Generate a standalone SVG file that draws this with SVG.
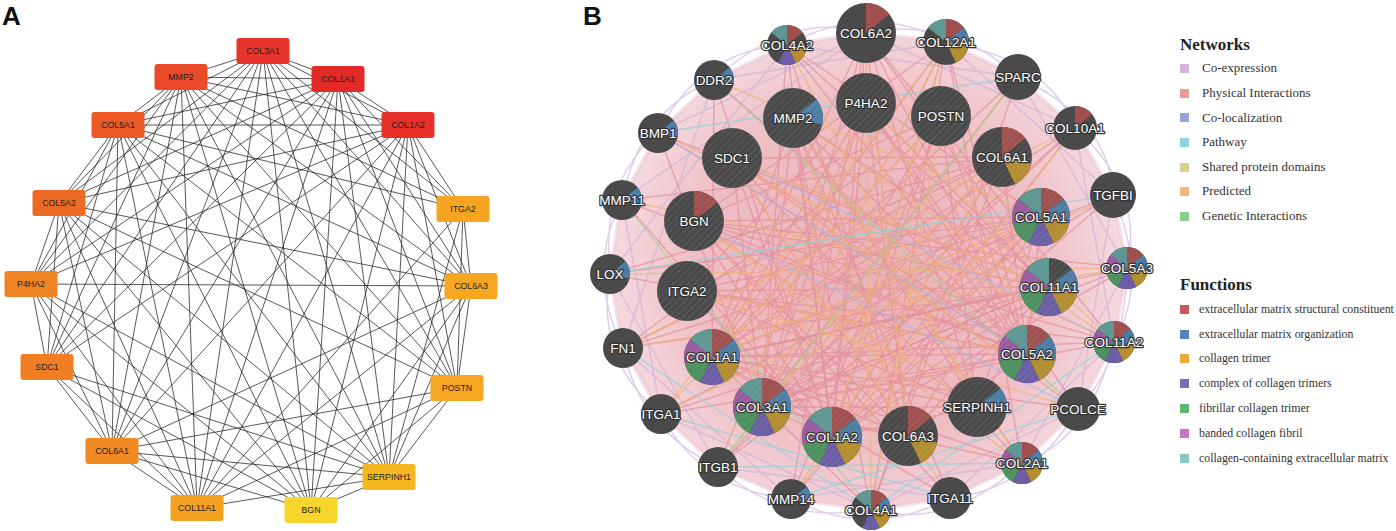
<svg xmlns="http://www.w3.org/2000/svg" xmlns:xlink="http://www.w3.org/1999/xlink" width="1396" height="531" viewBox="0 0 1396 531">
<style>
.lbl{font-family:"Liberation Sans",Arial,sans-serif;font-weight:bold;font-size:26px;fill:#111}
.an text{font-family:"Liberation Sans",Arial,sans-serif;font-size:8.8px;fill:#222;text-anchor:middle}
.ae line{stroke:#222;stroke-width:0.75}
.nd{fill:#4a4a4a}
.bn text{font-family:"Liberation Sans",Arial,sans-serif;font-size:13.5px;fill:#fff;text-anchor:middle;stroke:#333;stroke-width:2.4px;paint-order:stroke;stroke-linejoin:round}
.f0{fill:#a0514f}.f1{fill:#4c7ea6}.f2{fill:#b48e2f}.f3{fill:#6c5ea6}.f4{fill:#4e9260}.f5{fill:#9b5ba0}.f6{fill:#5f9892}
.be path{fill:none;stroke-width:1.5;stroke-linecap:round}
.phys{stroke:#e48c96;stroke-opacity:0.65}
.pred{stroke:#f0b478;stroke-opacity:0.7}
.coex{stroke:#c9aedb;stroke-opacity:0.6}
.path{stroke:#98d0d8;stroke-opacity:0.75}
.gen{stroke:#9ccf96;stroke-opacity:0.6}
.coloc{stroke:#a9b8e6;stroke-opacity:0.6}
.lg text{font-family:"Liberation Serif","Times New Roman",serif;fill:#333}
.lg .h{font-size:17px;font-weight:bold;fill:#222}
.lg .n{font-size:13px}
.lg .fn{font-size:11.8px}
</style>
<defs>
<pattern id="hatch" patternUnits="userSpaceOnUse" width="5" height="5" patternTransform="rotate(45)">
<line x1="0" y1="0" x2="0" y2="5" stroke="#9a9a9a" stroke-opacity="0.35" stroke-width="1.2"/>
</pattern>
<radialGradient id="bg" cx="868" cy="275" r="265" gradientUnits="userSpaceOnUse">
<stop offset="0" stop-color="#eab3ba"/>
<stop offset="0.65" stop-color="#eebfc5"/>
<stop offset="1" stop-color="#f5dce1"/>
</radialGradient>
<path id="s0" d="M0 0L0 -10A10 10 0 0 1 7.818 -6.235Z"/>
<path id="s1" d="M0 0L7.818 -6.235A10 10 0 0 1 9.749 2.225Z"/>
<path id="s2" d="M0 0L9.749 2.225A10 10 0 0 1 4.339 9.01Z"/>
<path id="s3" d="M0 0L4.339 9.01A10 10 0 0 1 -4.339 9.01Z"/>
<path id="s4" d="M0 0L-4.339 9.01A10 10 0 0 1 -9.749 2.225Z"/>
<path id="s5" d="M0 0L-9.749 2.225A10 10 0 0 1 -7.818 -6.235Z"/>
<path id="s6" d="M0 0L-7.818 -6.235A10 10 0 0 1 0 -10Z"/>
<g id="all7"><use href="#s0" class="f0"/><use href="#s1" class="f1"/><use href="#s2" class="f2"/><use href="#s3" class="f3"/><use href="#s4" class="f4"/><use href="#s5" class="f5"/><use href="#s6" class="f6"/></g>
</defs>
<rect width="1396" height="531" fill="#fff"/>
<text class="lbl" x="2" y="25">A</text>
<text class="lbl" x="583" y="25">B</text>

<!-- Panel A connectors -->
<g id="a-edges" class="ae">
<line x1="263" y1="51" x2="338" y2="79"/><line x1="263" y1="51" x2="408" y2="125"/><line x1="263" y1="51" x2="463" y2="209"/><line x1="263" y1="51" x2="471" y2="286"/><line x1="263" y1="51" x2="457" y2="388"/><line x1="263" y1="51" x2="389" y2="477"/><line x1="263" y1="51" x2="311" y2="510"/><line x1="263" y1="51" x2="197" y2="508"/><line x1="263" y1="51" x2="112" y2="451"/><line x1="263" y1="51" x2="47" y2="367"/><line x1="263" y1="51" x2="31" y2="284"/><line x1="263" y1="51" x2="59" y2="203"/><line x1="263" y1="51" x2="118" y2="125"/><line x1="263" y1="51" x2="181" y2="77"/>
<line x1="338" y1="79" x2="408" y2="125"/><line x1="338" y1="79" x2="463" y2="209"/><line x1="338" y1="79" x2="471" y2="286"/><line x1="338" y1="79" x2="457" y2="388"/><line x1="338" y1="79" x2="389" y2="477"/><line x1="338" y1="79" x2="311" y2="510"/><line x1="338" y1="79" x2="197" y2="508"/><line x1="338" y1="79" x2="112" y2="451"/><line x1="338" y1="79" x2="47" y2="367"/><line x1="338" y1="79" x2="31" y2="284"/><line x1="338" y1="79" x2="59" y2="203"/><line x1="338" y1="79" x2="118" y2="125"/><line x1="338" y1="79" x2="181" y2="77"/>
<line x1="408" y1="125" x2="463" y2="209"/><line x1="408" y1="125" x2="471" y2="286"/><line x1="408" y1="125" x2="457" y2="388"/><line x1="408" y1="125" x2="389" y2="477"/><line x1="408" y1="125" x2="311" y2="510"/><line x1="408" y1="125" x2="197" y2="508"/><line x1="408" y1="125" x2="112" y2="451"/><line x1="408" y1="125" x2="47" y2="367"/><line x1="408" y1="125" x2="31" y2="284"/><line x1="408" y1="125" x2="59" y2="203"/><line x1="408" y1="125" x2="118" y2="125"/><line x1="408" y1="125" x2="181" y2="77"/>
<line x1="463" y1="209" x2="471" y2="286"/><line x1="463" y1="209" x2="457" y2="388"/><line x1="463" y1="209" x2="389" y2="477"/><line x1="463" y1="209" x2="197" y2="508"/><line x1="463" y1="209" x2="118" y2="125"/><line x1="463" y1="209" x2="181" y2="77"/>
<line x1="471" y1="286" x2="457" y2="388"/><line x1="471" y1="286" x2="389" y2="477"/><line x1="471" y1="286" x2="311" y2="510"/><line x1="471" y1="286" x2="197" y2="508"/><line x1="471" y1="286" x2="112" y2="451"/><line x1="471" y1="286" x2="31" y2="284"/><line x1="471" y1="286" x2="59" y2="203"/><line x1="471" y1="286" x2="118" y2="125"/><line x1="471" y1="286" x2="181" y2="77"/>
<line x1="457" y1="388" x2="389" y2="477"/><line x1="457" y1="388" x2="311" y2="510"/><line x1="457" y1="388" x2="197" y2="508"/><line x1="457" y1="388" x2="112" y2="451"/><line x1="457" y1="388" x2="59" y2="203"/><line x1="457" y1="388" x2="118" y2="125"/><line x1="457" y1="388" x2="181" y2="77"/>
<line x1="389" y1="477" x2="311" y2="510"/><line x1="389" y1="477" x2="197" y2="508"/><line x1="389" y1="477" x2="112" y2="451"/><line x1="389" y1="477" x2="47" y2="367"/><line x1="389" y1="477" x2="31" y2="284"/><line x1="389" y1="477" x2="59" y2="203"/><line x1="389" y1="477" x2="118" y2="125"/><line x1="389" y1="477" x2="181" y2="77"/>
<line x1="311" y1="510" x2="112" y2="451"/><line x1="311" y1="510" x2="47" y2="367"/><line x1="311" y1="510" x2="31" y2="284"/><line x1="311" y1="510" x2="59" y2="203"/><line x1="311" y1="510" x2="118" y2="125"/><line x1="311" y1="510" x2="181" y2="77"/>
<line x1="197" y1="508" x2="112" y2="451"/><line x1="197" y1="508" x2="47" y2="367"/><line x1="197" y1="508" x2="31" y2="284"/><line x1="197" y1="508" x2="59" y2="203"/><line x1="197" y1="508" x2="118" y2="125"/><line x1="197" y1="508" x2="181" y2="77"/>
<line x1="112" y1="451" x2="47" y2="367"/><line x1="112" y1="451" x2="31" y2="284"/><line x1="112" y1="451" x2="59" y2="203"/><line x1="112" y1="451" x2="118" y2="125"/><line x1="112" y1="451" x2="181" y2="77"/>
<line x1="47" y1="367" x2="31" y2="284"/><line x1="47" y1="367" x2="59" y2="203"/><line x1="47" y1="367" x2="118" y2="125"/><line x1="47" y1="367" x2="181" y2="77"/>
<line x1="31" y1="284" x2="59" y2="203"/><line x1="31" y1="284" x2="118" y2="125"/><line x1="31" y1="284" x2="181" y2="77"/>
<line x1="59" y1="203" x2="118" y2="125"/><line x1="59" y1="203" x2="181" y2="77"/>
<line x1="118" y1="125" x2="181" y2="77"/>
</g>

<!-- Panel A nodes -->
<g class="an">
<g id="a-COL3A1"><rect x="236.5" y="38" width="53" height="26" rx="3" fill="#e8352b"/><text x="263" y="54">COL3A1</text></g>
<g id="a-COL1A1"><rect x="311.5" y="66" width="53" height="26" rx="3" fill="#e42a27"/><text x="338" y="82">COL1A1</text></g>
<g id="a-COL1A2"><rect x="381.5" y="112" width="53" height="26" rx="3" fill="#e63029"/><text x="408" y="128">COL1A2</text></g>
<g id="a-ITGA2"><rect x="436.5" y="196" width="53" height="26" rx="3" fill="#f6a522"/><text x="463" y="212">ITGA2</text></g>
<g id="a-COL6A3"><rect x="444.5" y="273" width="53" height="26" rx="3" fill="#f6a722"/><text x="471" y="289">COL6A3</text></g>
<g id="a-POSTN"><rect x="430.5" y="375" width="53" height="26" rx="3" fill="#f6a622"/><text x="457" y="391">POSTN</text></g>
<g id="a-SERPINH1"><rect x="362.5" y="464" width="53" height="26" rx="3" fill="#f6b622"/><text x="389" y="480">SERPINH1</text></g>
<g id="a-BGN"><rect x="284.5" y="497" width="53" height="26" rx="3" fill="#f6d62a"/><text x="311" y="513">BGN</text></g>
<g id="a-COL11A1"><rect x="170.5" y="495" width="53" height="26" rx="3" fill="#f4a021"/><text x="197" y="511">COL11A1</text></g>
<g id="a-COL6A1"><rect x="85.5" y="438" width="53" height="26" rx="3" fill="#f08a22"/><text x="112" y="454">COL6A1</text></g>
<g id="a-SDC1"><rect x="20.5" y="354" width="53" height="26" rx="3" fill="#f07f24"/><text x="47" y="370">SDC1</text></g>
<g id="a-P4HA2"><rect x="4.5" y="271" width="53" height="26" rx="3" fill="#f08323"/><text x="31" y="287">P4HA2</text></g>
<g id="a-COL5A2"><rect x="32.5" y="190" width="53" height="26" rx="3" fill="#ed6a24"/><text x="59" y="206">COL5A2</text></g>
<g id="a-COL5A1"><rect x="91.5" y="112" width="53" height="26" rx="3" fill="#ec5925"/><text x="118" y="128">COL5A1</text></g>
<g id="a-MMP2"><rect x="154.5" y="64" width="53" height="26" rx="3" fill="#ea4a28"/><text x="181" y="80">MMP2</text></g>
</g>

<!-- Panel B connectors -->
<g id="b-edges" class="be">
<polygon points="866,33 946,42 1018,77 1075,128 1113,195 1127,268 1114,342 1078,409 1022,463 950,498 871,510 791,499 718,467 661,414 623,348 610,274 622,200 658,133 714,80 787,45" fill="url(#bg)" stroke="#ecc8d6" stroke-width="4" stroke-linejoin="round" stroke-opacity="0.5"/>
<path class="coex" d="M866 33Q950 15 1018 77M946 42Q1050 60 1075 128M1018 77Q1110 120 1113 195M1075 128Q1145 190 1127 268M1113 195Q1150 280 1114 342M1127 268Q1125 360 1078 409M1114 342Q1090 440 1022 463M1078 409Q1030 490 950 498M1022 463Q950 530 871 510M950 498Q870 540 791 499M871 510Q780 525 718 467M791 499Q700 490 661 414M718 467Q640 430 623 348M661 414Q595 360 610 274M623 348Q585 270 622 200M610 274Q600 180 658 133M622 200Q640 110 714 80M658 133Q700 50 787 45M714 80Q790 10 866 33M787 45Q870 0 946 42"/>
<path class="coex" d="M622 200L866 33M610 274L787 45M623 348L714 80M661 414L622 200M718 467L610 274M791 499L623 348M871 510L661 414M950 498L718 467M1022 463L791 499M1078 409L871 510M1114 342L950 498M1127 268L1022 463M1113 195L1078 409M1075 128L1114 342M1018 77L1127 268M946 42L1113 195M866 33L1075 128M787 45L1018 77M714 80L946 42M658 133L866 33"/>
<path class="phys" d="M866 33L712 357M866 33L762 407M866 33L832 437M866 33L1027 354M866 33L1049 287M866 33L908 436M787 45L1041 217M787 45L832 437M787 45L1027 354M787 45L762 407M787 45L1049 287M946 42L712 357M946 42L762 407M946 42L832 437M946 42L1022 463M946 42L694 221M1075 128L712 357M1075 128L832 437M1075 128L762 407M1002 157L712 357M1002 157L762 407M1002 157L871 510M1002 157L622 200M1041 217L712 357M1041 217L762 407M1041 217L832 437M1041 217L694 221M1041 217L718 467M1041 217L661 414M1127 268L712 357M1127 268L762 407M1127 268L832 437M1049 287L712 357M1049 287L762 407M1049 287L687 291M1049 287L623 348M1114 342L712 357M1114 342L762 407M1114 342L694 221M1027 354L712 357M1027 354L762 407M1027 354L610 274M1027 354L658 133M1022 463L712 357M1022 463L762 407M1022 463L732 158M871 510L712 357M871 510L793 118M871 510L946 42M791 499L866 33M791 499L1041 217M718 467L1002 157M661 414L1049 287M623 348L1041 217M623 348L941 116M610 274L1002 157M622 200L1027 354M658 133L1049 287M714 80L1027 354M714 80L832 437M793 118L1027 354M793 118L762 407M793 118L977 407M866 103L762 407M866 103L1027 354M941 116L712 357M941 116L832 437M732 158L1049 287M732 158L908 436M694 221L1049 287M694 221L977 407M687 291L1041 217M687 291L1114 342M977 407L712 357M977 407L1041 217M977 407L866 33M908 436L712 357M908 436L1041 217M832 437L762 407M1078 409L712 357M1078 409L866 103M950 498L793 118M950 498L712 357M1113 195L712 357M1113 195L762 407M1018 77L762 407M1018 77L712 357"/>
<path class="phys" d="M793 118L712 357M793 118L832 437M793 118L1049 287M793 118L908 436M866 103L712 357M866 103L832 437M866 103L1049 287M866 103L908 436M866 103L687 291M941 116L762 407M941 116L1027 354M941 116L694 221M941 116L977 407M732 158L762 407M732 158L832 437M732 158L1027 354M732 158L1002 157M694 221L832 437M694 221L908 436M694 221L1027 354M687 291L1002 157M687 291L832 437M687 291L977 407M687 291L1027 354M1002 157L832 437M1002 157L1027 354M712 357L1049 287M712 357L832 437M762 407L1049 287M762 407L977 407M832 437L1049 287M832 437L977 407M908 436L1049 287M908 436L762 407M1041 217L1027 354M1027 354L908 436M977 407L1049 287M714 80L712 357M658 133L762 407M622 200L832 437M610 274L1041 217M623 348L1002 157M661 414L1027 354M718 467L866 103M791 499L941 116M950 498L694 221M1022 463L793 118M1078 409L732 158M1114 342L866 33M1127 268L694 221M1113 195L832 437M1075 128L718 467M1018 77L871 510M946 42L1027 354M787 45L908 436"/>
<path class="pred" d="M866 33L908 436M787 45L977 407M946 42L762 407M714 80L1041 217M658 133L1114 342M622 200L1049 287M610 274L1127 268M623 348L1075 128M661 414L946 42M718 467L1018 77M791 499L1002 157M871 510L866 33M950 498L732 158M1022 463L694 221M1078 409L687 291M1114 342L793 118M1113 195L661 414M1075 128L791 499M941 116L871 510M866 103L718 467M793 118L1022 463M732 158L1078 409M712 357L1041 217M762 407L1002 157M832 437L946 42M908 436L793 118M977 407L694 221M1027 354L687 291M1049 287L732 158M866 103L1114 342M941 116L661 414M623 348L1127 268"/>
<path class="path" d="M718 467L1022 463M791 499L1078 409M661 414L950 498M871 510L1114 342M623 348L871 510M610 274L1113 195M658 133L1018 77"/>
<path class="gen" d="M622 200L871 510M714 80L1078 409M1018 77L718 467"/>
<path class="coloc" d="M658 133L1027 354M732 158L1114 342M694 221L1078 409"/>
</g>

<!-- Panel B nodes -->
<g class="bn">
<g id="b-COL6A2" transform="translate(866,33)"><circle r="30" class="nd"/><g transform="scale(3)"><use href="#s0" class="f0"/></g><text y="5">COL6A2</text></g>
<g id="b-COL4A2" transform="translate(787,45)"><circle r="20" class="nd"/><g transform="scale(2)"><use href="#s0" class="f0"/><use href="#s2" class="f2"/><use href="#s3" class="f3"/><use href="#s6" class="f6"/></g><text y="5">COL4A2</text></g>
<g id="b-COL12A1" transform="translate(946,42)"><circle r="23" class="nd"/><g transform="scale(2.3)"><use href="#s0" class="f0"/><use href="#s1" class="f1"/><use href="#s2" class="f2"/><use href="#s6" class="f6"/></g><text y="5">COL12A1</text></g>
<g id="b-DDR2" transform="translate(714,80)"><circle r="20" class="nd"/><g transform="scale(2)"><use href="#s1" class="f1"/></g><text y="5">DDR2</text></g>
<g id="b-MMP2" transform="translate(793,118)"><circle r="30" class="nd"/><g transform="scale(3)"><use href="#s1" class="f1"/></g><circle r="30" fill="url(#hatch)"/><text y="5">MMP2</text></g>
<g id="b-P4HA2" transform="translate(866,103)"><circle r="30" class="nd"/><circle r="30" fill="url(#hatch)"/><text y="5">P4HA2</text></g>
<g id="b-POSTN" transform="translate(941,116)"><circle r="30" class="nd"/><circle r="30" fill="url(#hatch)"/><text y="5">POSTN</text></g>
<g id="b-SPARC" transform="translate(1018,77)"><circle r="23" class="nd"/><text y="5">SPARC</text></g>
<g id="b-BMP1" transform="translate(658,133)"><circle r="20" class="nd"/><g transform="scale(2)"><use href="#s1" class="f1"/></g><text y="5">BMP1</text></g>
<g id="b-SDC1" transform="translate(732,158)"><circle r="30" class="nd"/><circle r="30" fill="url(#hatch)"/><text y="5">SDC1</text></g>
<g id="b-COL10A1" transform="translate(1075,128)"><circle r="22" class="nd"/><g transform="scale(2.2)"><use href="#s0" class="f0"/></g><text y="5">COL10A1</text></g>
<g id="b-COL6A1" transform="translate(1002,157)"><circle r="30" class="nd"/><g transform="scale(3)"><use href="#s0" class="f0"/><use href="#s2" class="f2"/></g><circle r="30" fill="url(#hatch)"/><text y="5">COL6A1</text></g>
<g id="b-MMP11" transform="translate(622,200)"><circle r="20" class="nd"/><g transform="scale(2)"><use href="#s1" class="f1"/></g><text y="5">MMP11</text></g>
<g id="b-BGN" transform="translate(694,221)"><circle r="30" class="nd"/><g transform="scale(3)"><use href="#s0" class="f0"/></g><circle r="30" fill="url(#hatch)"/><text y="5">BGN</text></g>
<g id="b-TGFBI" transform="translate(1113,195)"><circle r="23" class="nd"/><text y="5">TGFBI</text></g>
<g id="b-COL5A1" transform="translate(1041,217)"><circle r="29" class="nd"/><use href="#all7" transform="scale(2.9)"/><circle r="29" fill="url(#hatch)"/><text y="5">COL5A1</text></g>
<g id="b-LOX" transform="translate(610,274)"><circle r="20" class="nd"/><g transform="scale(2)"><use href="#s1" class="f1"/></g><text y="5">LOX</text></g>
<g id="b-ITGA2" transform="translate(687,291)"><circle r="30" class="nd"/><circle r="30" fill="url(#hatch)"/><text y="5">ITGA2</text></g>
<g id="b-COL5A3" transform="translate(1127,268)"><circle r="21" class="nd"/><use href="#all7" transform="scale(2.1)"/><text y="5">COL5A3</text></g>
<g id="b-COL11A1" transform="translate(1049,287)"><circle r="29" class="nd"/><g transform="scale(2.9)"><use href="#s1" class="f1"/><use href="#s2" class="f2"/><use href="#s3" class="f3"/><use href="#s4" class="f4"/><use href="#s5" class="f5"/><use href="#s6" class="f6"/></g><circle r="29" fill="url(#hatch)"/><text y="5">COL11A1</text></g>
<g id="b-FN1" transform="translate(623,348)"><circle r="20" class="nd"/><text y="5">FN1</text></g>
<g id="b-COL1A1" transform="translate(712,357)"><circle r="28" class="nd"/><use href="#all7" transform="scale(2.8)"/><circle r="28" fill="url(#hatch)"/><text y="5">COL1A1</text></g>
<g id="b-COL11A2" transform="translate(1114,342)"><circle r="21" class="nd"/><use href="#all7" transform="scale(2.1)"/><text y="5">COL11A2</text></g>
<g id="b-COL5A2" transform="translate(1027,354)"><circle r="29" class="nd"/><use href="#all7" transform="scale(2.9)"/><circle r="29" fill="url(#hatch)"/><text y="5">COL5A2</text></g>
<g id="b-ITGA1" transform="translate(661,414)"><circle r="20" class="nd"/><text y="5">ITGA1</text></g>
<g id="b-COL3A1" transform="translate(762,407)"><circle r="29" class="nd"/><use href="#all7" transform="scale(2.9)"/><circle r="29" fill="url(#hatch)"/><text y="5">COL3A1</text></g>
<g id="b-SERPINH1" transform="translate(977,407)"><circle r="30" class="nd"/><g transform="scale(3)"><use href="#s1" class="f1"/></g><circle r="30" fill="url(#hatch)"/><text y="5">SERPINH1</text></g>
<g id="b-PCOLCE" transform="translate(1078,409)"><circle r="22" class="nd"/><text y="5">PCOLCE</text></g>
<g id="b-COL1A2" transform="translate(832,437)"><circle r="30" class="nd"/><use href="#all7" transform="scale(3)"/><circle r="30" fill="url(#hatch)"/><text y="5">COL1A2</text></g>
<g id="b-COL6A3" transform="translate(908,436)"><circle r="30" class="nd"/><g transform="scale(3)"><use href="#s0" class="f0"/><use href="#s2" class="f2"/></g><circle r="30" fill="url(#hatch)"/><text y="5">COL6A3</text></g>
<g id="b-COL2A1" transform="translate(1022,463)"><circle r="21" class="nd"/><use href="#all7" transform="scale(2.1)"/><text y="5">COL2A1</text></g>
<g id="b-ITGB1" transform="translate(718,467)"><circle r="20" class="nd"/><text y="5">ITGB1</text></g>
<g id="b-ITGA11" transform="translate(950,498)"><circle r="21" class="nd"/><text y="5">ITGA11</text></g>
<g id="b-MMP14" transform="translate(791,499)"><circle r="20" class="nd"/><g transform="scale(2)"><use href="#s1" class="f1"/></g><text y="5">MMP14</text></g>
<g id="b-COL4A1" transform="translate(871,510)"><circle r="20" class="nd"/><g transform="scale(2)"><use href="#s0" class="f0"/><use href="#s1" class="f1"/><use href="#s2" class="f2"/><use href="#s3" class="f3"/><use href="#s6" class="f6"/></g><text y="5">COL4A1</text></g>
</g>

<!-- Legend -->
<g id="legend" class="lg">
<text class="h" x="1180" y="50">Networks</text>
<rect x="1180" y="64" width="9" height="9" fill="#d3b5dd"/><text class="n" x="1202" y="72">Co-expression</text>
<rect x="1180" y="89" width="9" height="9" fill="#e99a9c"/><text class="n" x="1202" y="97">Physical Interactions</text>
<rect x="1180" y="113" width="9" height="9" fill="#93a5d9"/><text class="n" x="1202" y="122">Co-localization</text>
<rect x="1180" y="138" width="9" height="9" fill="#90d3d9"/><text class="n" x="1202" y="146">Pathway</text>
<rect x="1180" y="163" width="9" height="9" fill="#d6cf96"/><text class="n" x="1202" y="171">Shared protein domains</text>
<rect x="1180" y="187" width="9" height="9" fill="#f1ba7c"/><text class="n" x="1202" y="195">Predicted</text>
<rect x="1180" y="212" width="9" height="9" fill="#8fcd8f"/><text class="n" x="1202" y="220">Genetic Interactions</text>
<text class="h" x="1180" y="290">Functions</text>
<rect x="1180" y="305" width="9" height="9" fill="#c8595b"/><text class="fn" x="1199" y="313">extracellular matrix structural constituent</text>
<rect x="1180" y="330" width="9" height="9" fill="#4f86bf"/><text class="fn" x="1199" y="338">extracellular matrix organization</text>
<rect x="1180" y="354" width="9" height="9" fill="#e7a93a"/><text class="fn" x="1199" y="362">collagen trimer</text>
<rect x="1180" y="379" width="9" height="9" fill="#7d6bb5"/><text class="fn" x="1199" y="387">complex of collagen trimers</text>
<rect x="1180" y="404" width="9" height="9" fill="#5cb56c"/><text class="fn" x="1199" y="412">fibrillar collagen trimer</text>
<rect x="1180" y="429" width="9" height="9" fill="#c676c4"/><text class="fn" x="1199" y="437">banded collagen fibril</text>
<rect x="1180" y="454" width="9" height="9" fill="#84c8c4"/><text class="fn" x="1199" y="462">collagen-containing extracellular matrix</text>
</g>
</svg>
